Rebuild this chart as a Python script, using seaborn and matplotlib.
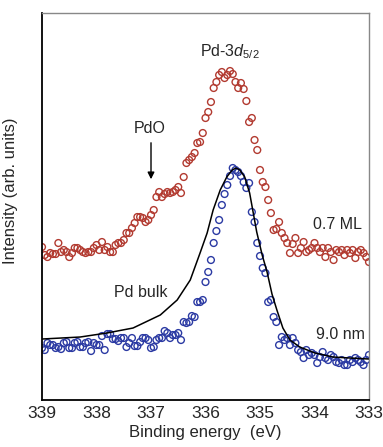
import numpy as np
import pandas as pd
import matplotlib
matplotlib.use("Agg")
import matplotlib.pyplot as plt
import seaborn as sns

# binding energy grid of the measured spectra (eV)
energy = [round(339 - 0.05 * i, 2) for i in range(121)]

# 0.7 ML film (arb. units)
ml07 = [1.53, 1.45, 1.43, 1.47, 1.46, 1.46, 1.57, 1.48, 1.50, 1.48,
        1.43, 1.47, 1.52, 1.52, 1.50, 1.48, 1.47, 1.48, 1.48, 1.52,
        1.55, 1.50, 1.58, 1.50, 1.53, 1.48, 1.48, 1.55, 1.57, 1.57,
        1.60, 1.67, 1.67, 1.72, 1.77, 1.83, 1.83, 1.82, 1.78, 1.80,
        1.85, 1.90, 2.03, 2.08, 2.03, 2.06, 2.08, 2.07, 2.08, 2.10,
        2.13, 2.07, 2.23, 2.37, 2.40, 2.43, 2.47, 2.57, 2.58, 2.67,
        2.82, 2.88, 2.98, 3.12, 3.18, 3.25, 3.28, 3.22, 3.25, 3.29,
        3.26, 3.18, 3.12, 3.17, 3.11, 2.99, 2.78, 2.82, 2.60, 2.50,
        2.30, 2.18, 2.13, 2.00, 1.87, 1.70, 1.71, 1.78, 1.67, 1.62,
        1.57, 1.47, 1.56, 1.62, 1.47, 1.52, 1.58, 1.48, 1.50, 1.52,
        1.57, 1.52, 1.48, 1.52, 1.43, 1.52, 1.48, 1.40, 1.50, 1.48,
        1.50, 1.45, 1.50, 1.47, 1.50, 1.42, 1.48, 1.50, 1.47, 1.43,
        1.38]

# 9.0 nm film (arb. units)
nm90 = [0.52, 0.50, 0.57, 0.55, 0.55, 0.52, 0.53, 0.51, 0.57, 0.58,
        0.52, 0.52, 0.57, 0.58, 0.53, 0.53, 0.57, 0.58, 0.49, 0.57,
        0.55, 0.55, 0.64, 0.50, 0.66, 0.66, 0.61, 0.61, 0.59, 0.62,
        0.62, 0.53, 0.57, 0.62, 0.54, 0.54, 0.58, 0.62, 0.62, 0.60,
        0.52, 0.53, 0.60, 0.62, 0.62, 0.69, 0.67, 0.62, 0.65, 0.65,
        0.67, 0.60, 0.78, 0.77, 0.78, 0.84, 0.83, 0.98, 0.98, 1.00,
        1.18, 1.28, 1.40, 1.57, 1.69, 1.80, 1.95, 2.06, 2.15, 2.24,
        2.32, 2.30, 2.28, 2.24, 2.18, 2.12, 2.17, 1.88, 1.78, 1.57,
        1.44, 1.32, 1.27, 0.98, 1.00, 0.83, 0.78, 0.55, 0.63, 0.60,
        0.62, 0.55, 0.62, 0.57, 0.50, 0.48, 0.42, 0.50, 0.45, 0.47,
        0.45, 0.37, 0.43, 0.48, 0.42, 0.40, 0.45, 0.43, 0.38, 0.37,
        0.40, 0.35, 0.35, 0.40, 0.38, 0.42, 0.40, 0.38, 0.35, 0.40,
        0.45]

# Pd bulk reference line shape
bulk_energy = [339.00, 338.30, 337.81, 337.33, 336.83, 336.52, 336.28, 336.10,
               335.97, 335.86, 335.73, 335.61, 335.51, 335.44, 335.37, 335.28,
               335.19, 335.06, 334.96, 334.87, 334.78, 334.69, 334.58, 334.45,
               334.27, 333.99, 333.66, 333.35, 333.00]
bulk_int = [0.61, 0.63, 0.67, 0.72, 0.85, 1.00, 1.20, 1.47,
            1.67, 1.90, 2.10, 2.23, 2.30, 2.32, 2.30, 2.23,
            2.07, 1.68, 1.45, 1.28, 1.06, 0.90, 0.72, 0.60,
            0.53, 0.47, 0.43, 0.42, 0.41]

xticks = [339, 338, 337, 336, 335, 334, 333]

sns.set_style("white")
plt.rcParams['font.family'] = ['Liberation Sans Narrow', 'Liberation Sans', 'DejaVu Sans']
plt.rcParams['mathtext.fontset'] = 'custom'
plt.rcParams['mathtext.rm'] = 'Liberation Sans'
plt.rcParams['mathtext.it'] = 'Liberation Sans:italic'

df = pd.DataFrame({'energy': energy, 'ml': ml07, 'nm': nm90})
bulk = pd.DataFrame({'energy': bulk_energy, 'int': bulk_int})

red = '#b23a30'
blue = '#2b3aa3'
fs = 11.5

fig = plt.figure(figsize=(3.83, 4.47), dpi=100)
ax = fig.add_axes([0.1097, 0.1051, 0.8537, 0.8658])

sns.scatterplot(data=df, x='energy', y='ml', ax=ax, marker='o', s=24,
                facecolor='none', edgecolor=red, linewidth=1.0)
sns.scatterplot(data=df, x='energy', y='nm', ax=ax, marker='o', s=24,
                facecolor='none', edgecolor=blue, linewidth=1.0)
sns.lineplot(data=bulk, x='energy', y='int', ax=ax, color='black', lw=1.1)

ax.set_xlim(339, 333)
ax.set_ylim(0, 3.87)
ax.set_xticks(xticks)
ax.set_yticks([])
ax.tick_params(axis='x', direction='in', length=6, width=1.2, labelsize=12.5, pad=4)
ax.set_xlabel('Binding energy  (eV)', fontsize=fs + 0.5, labelpad=3)
ax.set_ylabel('Intensity (arb. units)', fontsize=fs + 0.5)
ax.yaxis.set_label_coords(-0.072, 0.54)

for side in ['left', 'bottom']:
    ax.spines[side].set_color('black')
    ax.spines[side].set_linewidth(1.3)
for side in ['top', 'right']:
    ax.spines[side].set_color('#888888')
    ax.spines[side].set_linewidth(1.0)

ax.text(335.55, 3.48, r'Pd-3$d_{5/2}$', ha='center', va='center', fontsize=fs)
ax.text(337.02, 2.72, 'PdO', ha='center', va='center', fontsize=fs)
ax.annotate('', xy=(337.0, 2.18), xytext=(337.0, 2.60),
            arrowprops=dict(arrowstyle='-|>', color='black', lw=1.0, mutation_scale=10))
ax.text(333.57, 1.76, '0.7 ML', ha='center', va='center', fontsize=fs)
ax.text(333.53, 0.66, '9.0 nm', ha='center', va='center', fontsize=fs)
ax.text(337.18, 1.08, 'Pd bulk', ha='center', va='center', fontsize=fs)

fig.savefig('out.png', dpi=100)
